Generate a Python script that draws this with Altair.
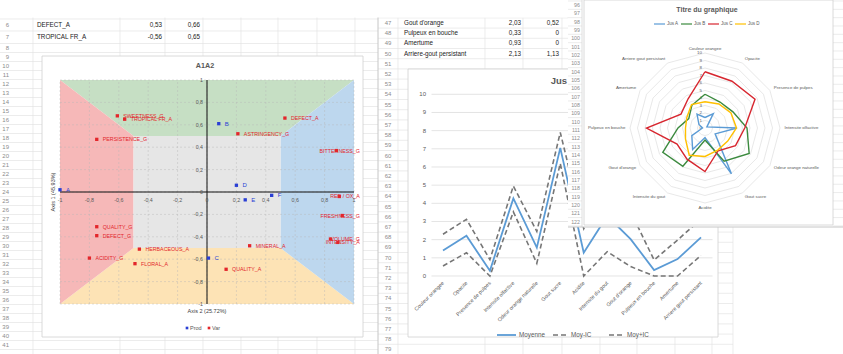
import math
import altair as alt
import pandas as pd

W, H = 843, 354
FONT = "Liberation Sans"
TXT = "#595959"
CELL = "#e4e4e4"

# ---------------- data ----------------
# left sheet (coordinates table, rows 5-7)
sheet_rows = [5, 6, 7]
sheet_labels = ["HERBACEOUS_A", "DEFECT_A", "TROPICAL FR_A"]
sheet_col1 = ["-0,46", "0,53", "-0,56"]
sheet_col2 = ["-0,51", "0,66", "0,65"]

# biplot A1A2
prod_names = ["A", "B", "C", "D", "E", "F"]
prod_x = [-1.00, 0.08, 0.01, 0.20, 0.26, 0.44]
prod_y = [0.02, 0.61, -0.59, 0.06, -0.07, -0.03]

var_names = ["SWEETNESS_G", "TROPICAL FR_A", "PERSISTENCE_G", "DEFECT_A", "ASTRINGENCY_G",
             "BITTERNESS_G", "RED / OX_A", "FRESHNESS_G", "VOLUME_G", "INTENSITY_A",
             "QUALITY_G", "DEFECT_G", "ACIDITY_G", "HERBACEOUS_A", "FLORAL_A",
             "MINERAL_A", "QUALITY_A"]
var_x = [-0.61, -0.56, -0.75, 0.53, 0.21, 0.88, 0.90, 0.92, 0.84, 0.89,
         -0.75, -0.75, -0.80, -0.46, -0.49, 0.29, 0.13]
var_y = [0.68, 0.65, 0.47, 0.66, 0.52, 0.37, -0.04, -0.21, -0.42, -0.45,
         -0.31, -0.39, -0.59, -0.51, -0.64, -0.48, -0.69]

axis_ticks = [-1.0, -0.8, -0.6, -0.4, -0.2, 0.0, 0.2, 0.4, 0.6, 0.8, 1.0]
axis_tick_labels = ["-1", "-0,8", "-0,6", "-0,4", "-0,2", "0", "0,2", "0,4", "0,6", "0,8", "1"]

# middle sheet table (rows 47-50)
table_rows = [47, 48, 49, 50]
table_labels = ["Gout d'orange", "Pulpeux en bouche", "Amertume", "Arriere-gout persistant"]
table_moy = ["2,03", "0,33", "0,93", "2,13"]
table_moy_ic = ["0,52", "0", "0", "1,13"]

# line chart
attributes = ["Couleur orangee", "Opacite", "Presence de pulpes", "Intensite olfactive",
              "Odeur orange naturelle", "Gout sucre", "Acidite", "Intensite du gout",
              "Gout d'orange", "Pulpeux en bouche", "Amertume", "Arriere gout persistant"]
moyenne = [1.40, 2.21, 0.29, 4.27, 1.56, 7.05, 1.28, 3.30, 2.03, 0.33, 0.93, 2.13]
moy_moins_ic = [0.55, 1.28, 0.00, 3.53, 0.70, 6.20, 0.00, 1.34, 0.52, 0.00, 0.00, 1.13]
moy_plus_ic = [2.30, 3.12, 0.90, 4.95, 2.45, 7.90, 2.60, 5.26, 3.54, 0.88, 1.98, 3.13]
line_ticks = [0, 1, 2, 3, 4, 5, 6, 7, 8, 9, 10]

# radar chart
jus_names = ["Jus A", "Jus B", "Jus C", "Jus D"]
jus_a = [1.40, 2.21, 0.29, 4.27, 1.56, 7.05, 1.28, 3.30, 2.03, 0.33, 0.93, 2.13]
jus_b = [4.5, 4.0, 4.3, 5.6, 6.8, 5.1, 1.6, 5.9, 6.5, 3.6, 2.5, 3.5]
jus_c = [7.5, 7.2, 7.7, 5.3, 4.7, 3.5, 5.8, 4.8, 4.3, 7.8, 3.7, 4.5]
jus_d = [3.5, 3.7, 4.0, 4.2, 3.5, 3.4, 3.8, 4.2, 3.0, 2.6, 2.8, 3.6]
jus_colors = ["#5b9bd5", "#3b8a3e", "#d7262f", "#ffc000"]
radar_ticks = [0, 1, 2, 3, 4, 5, 6, 7, 8, 9, 10]


# ---------------- helpers ----------------
def one():
    return alt.Chart(pd.DataFrame({"t": [""]}))


def label(text, x, y, size=6.0, color=TXT, align="center", weight="normal", angle=0, baseline="middle"):
    return alt.Chart(pd.DataFrame({"t": [text]})).mark_text(
        align=align, baseline=baseline, fontSize=size, font=FONT, color=color,
        fontWeight=weight, angle=angle).encode(text="t:N", x=alt.value(x), y=alt.value(y))


def box(x1, x2, y1, y2, fill="white", stroke="", sw=0.8):
    kw = dict(fill=fill)
    if stroke:
        kw.update(stroke=stroke, strokeWidth=sw)
    return one().mark_rect(**kw).encode(x=alt.value(x1), x2=alt.value(x2),
                                         y=alt.value(y1), y2=alt.value(y2))


def seg(x1, x2, y1, y2, color, width=1.0, dash=None):
    kw = dict(color=color, strokeWidth=width)
    if dash:
        kw["strokeDash"] = dash
    return one().mark_rule(**kw).encode(x=alt.value(x1), x2=alt.value(x2),
                                        y=alt.value(y1), y2=alt.value(y2))


def hlines(ys, x1, x2, color=CELL, width=0.7):
    return alt.Chart(pd.DataFrame({"y": ys})).mark_rule(color=color, strokeWidth=width).encode(
        y=alt.Y("y:Q", scale=None), x=alt.value(x1), x2=alt.value(x2))


def vlines(xs, y1, y2, color=CELL, width=0.7):
    return alt.Chart(pd.DataFrame({"x": xs})).mark_rule(color=color, strokeWidth=width).encode(
        x=alt.X("x:Q", scale=None), y=alt.value(y1), y2=alt.value(y2))


layers = []

# ================= left spreadsheet =================
left_h = [19.0, 31.0, 43.5] + [43.5 + 9.0 * k for k in range(1, 35)]
layers.append(hlines(left_h, 0, 378))
layers.append(vlines([33, 120, 165, 203, 241, 278, 317, 355], 17, 354))
left_nums = pd.DataFrame({"n": [str(n) for n in range(5, 42)],
                          "y": [13, 25, 37] + [48 + 9 * k for k in range(0, 34)]})
layers.append(alt.Chart(left_nums).mark_text(align="right", fontSize=6, font=FONT, color="#8c8c8c").encode(
    x=alt.value(9), y=alt.Y("y:Q", scale=None), text="n:N"))
row_center = {5: 13, 6: 25, 7: 37}
sheet_df = pd.DataFrame({"lab": sheet_labels, "c1": sheet_col1, "c2": sheet_col2,
                         "y": [row_center[r] for r in sheet_rows]})
layers.append(alt.Chart(sheet_df).mark_text(align="left", fontSize=6.3, font=FONT, color="#222").encode(
    x=alt.value(37), y=alt.Y("y:Q", scale=None), text="lab:N"))
layers.append(alt.Chart(sheet_df).mark_text(align="right", fontSize=6.3, font=FONT, color="#222").encode(
    x=alt.value(162), y=alt.Y("y:Q", scale=None), text="c1:N"))
layers.append(alt.Chart(sheet_df).mark_text(align="right", fontSize=6.3, font=FONT, color="#222").encode(
    x=alt.value(200), y=alt.Y("y:Q", scale=None), text="c2:N"))

# ================= middle spreadsheet =================
layers.append(box(378, 733, 17.5, 354, fill="white"))
mid_h = [17.9 + 10.2 * k for k in range(0, 34)]
layers.append(hlines(mid_h, 378, 733))
layers.append(vlines([398, 485, 523, 562, 600, 637, 675, 712, 733], 17.5, 354))
mid_nums = pd.DataFrame({"n": [str(n) for n in range(47, 80)]})
mid_nums["y"] = [23 + 10.2 * k for k in range(len(mid_nums))]
layers.append(alt.Chart(mid_nums).mark_text(fontSize=6, font=FONT, color="#8c8c8c").encode(
    x=alt.value(388), y=alt.Y("y:Q", scale=None), text="n:N"))
tab_df = pd.DataFrame({"lab": table_labels, "m": table_moy, "ic": table_moy_ic,
                       "y": [23 + 10.2 * (r - 47) for r in table_rows]})
layers.append(alt.Chart(tab_df).mark_text(align="left", fontSize=6.3, font=FONT, color="#222").encode(
    x=alt.value(404), y=alt.Y("y:Q", scale=None), text="lab:N"))
layers.append(alt.Chart(tab_df).mark_text(align="right", fontSize=6.3, font=FONT, color="#222").encode(
    x=alt.value(521), y=alt.Y("y:Q", scale=None), text="m:N"))
layers.append(alt.Chart(tab_df).mark_text(align="right", fontSize=6.3, font=FONT, color="#222").encode(
    x=alt.value(559), y=alt.Y("y:Q", scale=None), text="ic:N"))
layers.append(seg(378, 378, 0, 354, "#c6c6c6", 1.0))
layers.append(box(0, 567, 0, 17.5, fill="white"))

# ================= biplot A1A2 =================
BX = alt.Scale(domain=[-1, 1], range=[60, 354], nice=False, zero=False)
BY = alt.Scale(domain=[-1, 1], range=[304, 80], nice=False, zero=False)


def bx(f):
    return alt.X(f, type="quantitative", scale=BX, axis=None)


def by(f):
    return alt.Y(f, type="quantitative", scale=BY, axis=None)


layers.append(box(42, 363, 56, 337, fill="white", stroke="#d0d0d0"))
zone_top = pd.DataFrame({"x": [-1, -0.5, 0.5, 1], "y": [1, 1, 1, 1], "y2": [1, 0.5, 0.5, 1]})
zone_bot = pd.DataFrame({"x": [-1, -0.5, 0.5, 1], "y": [-1, -1, -1, -1], "y2": [-1, -0.5, -0.5, -1]})
zone_left = pd.DataFrame({"y": [-1, -0.5, 0.5, 1], "x": [-1, -1, -1, -1], "x2": [-1, -0.5, -0.5, -1]})
zone_right = pd.DataFrame({"y": [-1, -0.5, 0.5, 1], "x": [1, 1, 1, 1], "x2": [1, 0.5, 0.5, 1]})
zone_mid = pd.DataFrame({"x": [-0.5], "x2": [0.5], "y": [-0.5], "y2": [0.5]})
layers.append(alt.Chart(zone_top).mark_area(color="#c6dfc4", opacity=1).encode(
    x=bx("x"), y=by("y"), y2=alt.Y2("y2")))
layers.append(alt.Chart(zone_bot).mark_area(color="#fde3b5", opacity=1).encode(
    x=bx("x"), y=by("y"), y2=alt.Y2("y2")))
layers.append(alt.Chart(zone_left).mark_area(color="#f6b8b8", opacity=1, orient="horizontal").encode(
    y=by("y"), x=bx("x"), x2=alt.X2("x2")))
layers.append(alt.Chart(zone_right).mark_area(color="#bdd7ee", opacity=1, orient="horizontal").encode(
    y=by("y"), x=bx("x"), x2=alt.X2("x2")))
layers.append(alt.Chart(zone_mid).mark_rect(color="#e6e6e6").encode(
    x=bx("x"), x2=alt.X2("x2"), y=by("y"), y2=alt.Y2("y2")))

grid_df = pd.DataFrame({"t": axis_ticks, "lo": -1.0, "hi": 1.0})
layers.append(alt.Chart(grid_df).mark_rule(color="#b8b8b8", strokeWidth=0.6, strokeDash=[2, 2], opacity=0.7).encode(
    x=bx("t"), y=by("lo"), y2=alt.Y2("hi")))
layers.append(alt.Chart(grid_df).mark_rule(color="#b8b8b8", strokeWidth=0.6, strokeDash=[2, 2], opacity=0.7).encode(
    y=by("t"), x=bx("lo"), x2=alt.X2("hi")))
axes_df = pd.DataFrame({"z": [0.0], "lo": [-1.0], "hi": [1.0]})
layers.append(alt.Chart(axes_df).mark_rule(color="#111", strokeWidth=1).encode(
    y=by("z"), x=bx("lo"), x2=alt.X2("hi")))
layers.append(alt.Chart(axes_df).mark_rule(color="#111", strokeWidth=1).encode(
    x=bx("z"), y=by("lo"), y2=alt.Y2("hi")))
tick_df = pd.DataFrame({"t": axis_ticks, "lab": axis_tick_labels, "z": 0.0})
layers.append(alt.Chart(tick_df).mark_text(fontSize=5.3, font=FONT, color=TXT, dy=8).encode(
    x=bx("t"), y=by("z"), text="lab:N"))
layers.append(alt.Chart(tick_df).mark_text(fontSize=5.3, font=FONT, color=TXT, align="right", dx=-4).encode(
    y=by("t"), x=bx("z"), text="lab:N"))

prod_df = pd.DataFrame({"name": prod_names, "x": prod_x, "y": prod_y})
var_df = pd.DataFrame({"name": var_names, "x": var_x, "y": var_y})
BLUE, RED = "#2a3fd4", "#e3262b"
layers.append(alt.Chart(prod_df).mark_square(size=11, color=BLUE, opacity=1).encode(x=bx("x"), y=by("y")))
layers.append(alt.Chart(prod_df).mark_text(align="left", dx=6, fontSize=6, font=FONT, color=BLUE).encode(
    x=bx("x"), y=by("y"), text="name:N"))
layers.append(alt.Chart(var_df).mark_square(size=11, color=RED, opacity=1).encode(x=bx("x"), y=by("y")))
layers.append(alt.Chart(var_df).transform_filter("datum.x < 0.8").mark_text(
    align="left", dx=6, fontSize=5.3, font=FONT, color=RED).encode(x=bx("x"), y=by("y"), text="name:N"))
layers.append(alt.Chart(var_df).transform_filter("datum.x >= 0.8").mark_text(
    align="right", fontSize=5.3, font=FONT, color=RED).encode(
    x=alt.XDatum(1.04, type="quantitative", scale=BX, axis=None), y=by("y"), text="name:N"))

layers.append(label("A1A2", 205, 66, size=7.2, weight="bold"))
layers.append(label("Axis 2 (25.72%)", 207, 311, size=5.5, color="#404040"))
layers.append(label("Axis 1 (45.93%)", 53, 192, size=5.5, color="#404040", angle=270))
layers.append(one().mark_square(size=7, color=BLUE, opacity=1).encode(x=alt.value(187), y=alt.value(328)))
layers.append(label("Prod", 190, 328, size=5.5, align="left"))
layers.append(one().mark_square(size=7, color=RED, opacity=1).encode(x=alt.value(209), y=alt.value(328)))
layers.append(label("Var", 212, 328, size=5.5, align="left"))

# ================= line chart (Jus ...) =================
LX = alt.Scale(domain=[0, 11], range=[443, 701], nice=False, zero=False)
LY = alt.Scale(domain=[0, 10], range=[276, 94.3], nice=False, zero=False)
layers.append(box(408, 718, 69, 337, fill="white", stroke="#d0d0d0"))
lt_df = pd.DataFrame({"v": line_ticks})
layers.append(alt.Chart(lt_df).mark_rule(color="#d9d9d9", strokeWidth=0.7).encode(
    y=alt.Y("v:Q", scale=LY, axis=None), x=alt.value(431.5), x2=alt.value(712.5)))
layers.append(alt.Chart(lt_df).mark_text(align="right", fontSize=6, font=FONT, color=TXT).encode(
    y=alt.Y("v:Q", scale=LY, axis=None), x=alt.value(426), text="v:Q"))
line_df = pd.DataFrame({"i": list(range(len(attributes))), "attr": attributes,
                        "Moyenne": moyenne, "Moy-IC": moy_moins_ic, "Moy+IC": moy_plus_ic})
long_df = line_df.melt(id_vars=["i", "attr"], var_name="serie", value_name="v")
layers.append(alt.Chart(line_df).mark_text(align="right", angle=315, fontSize=5.3, font=FONT, color=TXT).encode(
    x=alt.X("i:Q", scale=LX, axis=None), y=alt.value(282), text="attr:N"))
layers.append(alt.Chart(long_df).transform_filter("datum.serie != 'Moyenne'").mark_line(
    color="#767676", strokeWidth=1.6, strokeDash=[5, 3]).encode(
    x=alt.X("i:Q", scale=LX, axis=None), y=alt.Y("v:Q", scale=LY, axis=None), detail="serie:N"))
layers.append(alt.Chart(long_df).transform_filter("datum.serie == 'Moyenne'").mark_line(
    color="#5b9bd5", strokeWidth=1.8).encode(
    x=alt.X("i:Q", scale=LX, axis=None), y=alt.Y("v:Q", scale=LY, axis=None)))
layers.append(label("Jus", 567, 81, size=9.5, weight="bold", align="right"))
layers.append(seg(497, 516, 335, 335, "#5b9bd5", 1.8))
layers.append(label("Moyenne", 519, 335, size=6.3, align="left"))
layers.append(seg(553, 568, 335, 335, "#767676", 1.6, [5, 3]))
layers.append(label("Moy-IC", 571, 335, size=6.3, align="left"))
layers.append(seg(609, 624, 335, 335, "#767676", 1.6, [5, 3]))
layers.append(label("Moy+IC", 627, 335, size=6.3, align="left"))

# ================= radar window =================
layers.append(box(568, 843, 0, 227, fill="white"))
rad_rows = [1 + 8.33 * k for k in range(0, 28)]
layers.append(hlines(rad_rows, 568, 582))
layers.append(hlines(rad_rows, 833, 843))
layers.append(seg(582, 582, 0, 227, "#d6d6d6", 0.8))
rad_nums = pd.DataFrame({"n": [str(n) for n in range(96, 123)]})
rad_nums["y"] = [5 + 8.33 * k for k in range(len(rad_nums))]
layers.append(alt.Chart(rad_nums).mark_text(align="right", fontSize=5.3, font=FONT, color="#8c8c8c").encode(
    x=alt.value(580), y=alt.Y("y:Q", scale=None), text="n:N"))
layers.append(seg(568, 843, 227, 227, "#c6c6c6", 1.0))
layers.append(box(584, 833, 0, 225, fill="white", stroke="#d0d0d0"))

RX = alt.Scale(domain=[-10, 10], range=[630, 780], nice=False, zero=False)
RY = alt.Scale(domain=[-10, 10], range=[203, 53], nice=False, zero=False)
n_att = len(attributes)

grid_rows = []
for r in radar_ticks[1:]:
    for k in range(n_att + 1):
        a = 2 * math.pi * (k % n_att) / n_att
        grid_rows.append({"r": r, "k": k, "x": r * math.sin(a), "y": r * math.cos(a)})
layers.append(alt.Chart(pd.DataFrame(grid_rows)).mark_line(color="#d9d9d9", strokeWidth=0.6).encode(
    x=alt.X("x:Q", scale=RX, axis=None), y=alt.Y("y:Q", scale=RY, axis=None),
    detail="r:N", order="k:Q"))

rv_df = pd.DataFrame({"v": radar_ticks, "z": 0.0})
layers.append(alt.Chart(rv_df).mark_text(align="right", fontSize=4.4, font=FONT, color=TXT).encode(
    y=alt.Y("v:Q", scale=RY, axis=None), x=alt.value(702), text="v:Q"))

lab_rows = []
for k, att in enumerate(attributes):
    a = 2 * math.pi * k / n_att
    s = math.sin(a)
    side = "L" if s > 0.01 else ("R" if s < -0.01 else "C")
    lab_rows.append({"att": att, "x": 10.6 * s, "y": 10.6 * math.cos(a), "side": side})
lab_df = pd.DataFrame(lab_rows)
for side, al in (("L", "left"), ("R", "right"), ("C", "center")):
    layers.append(alt.Chart(lab_df).transform_filter(f"datum.side == '{side}'").mark_text(
        align=al, fontSize=4.4, font=FONT, color=TXT).encode(
        x=alt.X("x:Q", scale=RX, axis=None), y=alt.Y("y:Q", scale=RY, axis=None), text="att:N"))

poly_rows = []
for name, vals in zip(jus_names, [jus_a, jus_b, jus_c, jus_d]):
    for k in range(n_att + 1):
        a = 2 * math.pi * (k % n_att) / n_att
        v = vals[k % n_att]
        poly_rows.append({"serie": name, "k": k, "x": v * math.sin(a), "y": v * math.cos(a)})
layers.append(alt.Chart(pd.DataFrame(poly_rows)).mark_line(strokeWidth=1.4).encode(
    x=alt.X("x:Q", scale=RX, axis=None), y=alt.Y("y:Q", scale=RY, axis=None),
    color=alt.Color("serie:N", scale=alt.Scale(domain=jus_names, range=jus_colors), legend=None),
    detail="serie:N", order="k:Q"))

layers.append(label("Titre du graphique", 707, 10, size=7, weight="bold"))
for j, (name, col) in enumerate(zip(jus_names, jus_colors)):
    x0 = 654 + 27 * j
    layers.append(seg(x0, x0 + 11, 24, 24, col, 1.2))
    layers.append(label(name, x0 + 13, 24, size=4.5, align="left"))

chart = alt.layer(*layers).resolve_scale(x="independent", y="independent").properties(
    width=W, height=H, background="white", padding=0,
    autosize=alt.AutoSizeParams(type="none")
).configure_view(stroke="transparent")

chart.save("out.html", embed_options={"renderer": "svg", "actions": False})
